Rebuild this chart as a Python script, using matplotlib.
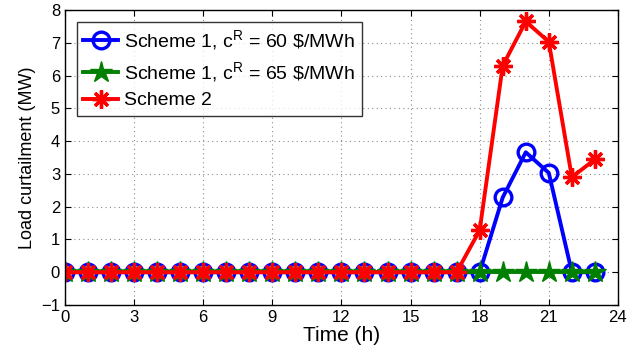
import matplotlib
matplotlib.use("Agg")
import matplotlib.pyplot as plt

# hourly load curtailment (MW)
hours = list(range(24))
scheme1_c60 = [0] * 19 + [2.28, 3.66, 3.03, 0, 0]
scheme1_c65 = [0] * 24
scheme2 = [0] * 18 + [1.28, 6.3, 7.65, 7.03, 2.9, 3.44]

x_ticks = [0, 3, 6, 9, 12, 15, 18, 21, 24]
y_ticks = [-1, 0, 1, 2, 3, 4, 5, 6, 7, 8]

plt.rcParams["font.family"] = ["Liberation Sans", "DejaVu Sans"]
plt.rcParams["mathtext.fontset"] = "custom"
plt.rcParams["mathtext.rm"] = "Liberation Sans"
plt.rcParams["mathtext.it"] = "Liberation Sans:italic"

fig = plt.figure(figsize=(6.43, 3.45), dpi=100)
ax = fig.add_axes([0.101, 0.116, 0.860, 0.855])

asterisk = (8, 2, 0)
ax.plot(hours, scheme1_c60, "-", color="blue", lw=2.8, marker="o", ms=12,
        mfc="none", mew=2.4, label=r"Scheme 1, c$^{\mathrm{R}}$ = 60 \$/MWh")
ax.plot(hours, scheme1_c65, "-", color="green", lw=2.8, marker="*", ms=16,
        mew=1.0, label=r"Scheme 1, c$^{\mathrm{R}}$ = 65 \$/MWh")
ax.plot(hours, scheme2, "-", color="red", lw=2.8, marker=asterisk, ms=13,
        mew=2.4, label="Scheme 2")

ax.set_xlim(0, 24)
ax.set_ylim(-1, 8)
ax.set_xticks(x_ticks)
ax.set_yticks(y_ticks)
ax.set_yticklabels(["\u22121"] + [str(v) for v in y_ticks[1:]])
ax.tick_params(direction="in", top=True, right=True, labelsize=12, length=4)
ax.grid(True, linestyle=(0, (1, 3)), color="0.55", lw=0.8)
for s in ax.spines.values():
    s.set_linewidth(1.0)

ax.set_xlabel("Time (h)", fontsize=15, labelpad=1)
ax.set_ylabel("Load curtailment (MW)", fontsize=13, labelpad=4)

leg = ax.legend(loc="upper left", fontsize=14, frameon=True, fancybox=False,
                edgecolor="black", handlelength=1.8, handletextpad=0.3,
                labelspacing=0.4, borderpad=0.35, borderaxespad=0.6)
leg.get_frame().set_linewidth(1.0)

fig.savefig("out.png", dpi=100)
